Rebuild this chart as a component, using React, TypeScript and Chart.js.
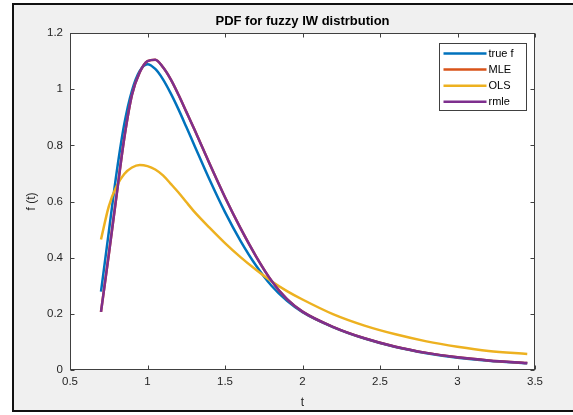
import React, { useEffect, useRef } from 'react';
import { Chart, registerables } from 'chart.js';

Chart.register(...registerables);

const titleText = 'PDF for fuzzy IW distrbution';
const xLabel = 't';
const yLabel = 'f (t)';

const tValues = [0.7, 0.75, 0.8, 0.85, 0.9, 0.95, 1.0, 1.05, 1.1, 1.15, 1.2, 1.25, 1.3, 1.4, 1.5, 1.6, 1.7, 1.8, 1.9, 2.0, 2.2, 2.4, 2.6, 2.8, 3.0, 3.2, 3.45];
const trueF = [0.279, 0.49, 0.70, 0.875, 0.995, 1.065, 1.089, 1.072, 1.035, 0.985, 0.928, 0.866, 0.803, 0.678, 0.562, 0.46, 0.372, 0.30, 0.246, 0.206, 0.152, 0.112, 0.082, 0.06, 0.044, 0.033, 0.024];
const mle = [0.207, 0.41, 0.62, 0.825, 0.98, 1.06, 1.10, 1.105, 1.078, 1.035, 0.98, 0.92, 0.86, 0.735, 0.615, 0.505, 0.405, 0.318, 0.252, 0.208, 0.153, 0.113, 0.083, 0.061, 0.045, 0.034, 0.025];
const ols = [0.465, 0.582, 0.654, 0.698, 0.721, 0.730, 0.726, 0.714, 0.693, 0.663, 0.632, 0.598, 0.565, 0.507, 0.452, 0.402, 0.357, 0.316, 0.281, 0.251, 0.198, 0.158, 0.127, 0.102, 0.083, 0.068, 0.057];
const rmle = [0.207, 0.41, 0.62, 0.825, 0.98, 1.06, 1.10, 1.105, 1.078, 1.035, 0.98, 0.92, 0.86, 0.735, 0.615, 0.505, 0.405, 0.318, 0.252, 0.208, 0.153, 0.113, 0.083, 0.061, 0.045, 0.034, 0.025];

const seriesNames = ['true f', 'MLE', 'OLS', 'rmle'];
const seriesColors = ['#0072BD', '#D95319', '#EDB120', '#7E2F8E'];

const xTicks = [0.5, 1, 1.5, 2, 2.5, 3, 3.5];
const xTickLabels = ['0.5', '1', '1.5', '2', '2.5', '3', '3.5'];
const yTicks = [0, 0.2, 0.4, 0.6, 0.8, 1, 1.2];
const yTickLabels = ['0', '0.2', '0.4', '0.6', '0.8', '1', '1.2'];

const FONT = "'Liberation Sans', Arial, Helvetica, sans-serif";

const decorPlugin = {
  id: 'decor',
  beforeDatasetsDraw(chart: any) {
    const { ctx, chartArea: a, scales } = chart;
    ctx.save();
    ctx.strokeStyle = '#404040';
    ctx.lineWidth = 1;
    const L = Math.round(a.left) + 0.5;
    const R = Math.round(a.right) - 0.5;
    const T = Math.round(a.top) + 0.5;
    const B = Math.round(a.bottom) - 0.5;
    ctx.strokeRect(L, T, R - L, B - T);
    const tl = 4;
    ctx.beginPath();
    xTicks.forEach((v) => {
      const px = Math.round(scales.x.getPixelForValue(v)) + 0.5;
      ctx.moveTo(px, B); ctx.lineTo(px, B - tl);
      ctx.moveTo(px, T); ctx.lineTo(px, T + tl);
    });
    yTicks.forEach((v) => {
      const py = Math.round(scales.y.getPixelForValue(v)) + 0.5;
      ctx.moveTo(L, py); ctx.lineTo(L + tl, py);
      ctx.moveTo(R, py); ctx.lineTo(R - tl, py);
    });
    ctx.stroke();
    ctx.restore();
  },
  afterDraw(chart: any) {
    const { ctx, chartArea: a } = chart;
    ctx.save();
    ctx.fillStyle = '#000';
    ctx.font = `bold 13px ${FONT}`;
    ctx.textAlign = 'center';
    ctx.textBaseline = 'middle';
    ctx.fillText(titleText, (a.left + a.right) / 2, 21);
    ctx.fillStyle = '#262626';
    ctx.font = `12px ${FONT}`;
    ctx.fillText(xLabel, (a.left + a.right) / 2, 403);
    ctx.save();
    ctx.translate(32, (a.top + a.bottom) / 2);
    ctx.rotate(-Math.PI / 2);
    ctx.fillText(yLabel, 0, 0);
    ctx.restore();
    const bw = 87, bh = 67;
    const bx = Math.round(a.right - 9 - bw) + 0.5;
    const by = Math.round(a.top + 10) + 0.5;
    ctx.fillStyle = '#fff';
    ctx.fillRect(bx, by, bw, bh);
    ctx.strokeStyle = '#404040';
    ctx.lineWidth = 1;
    ctx.strokeRect(bx, by, bw, bh);
    ctx.font = `11px ${FONT}`;
    ctx.textAlign = 'left';
    ctx.textBaseline = 'middle';
    seriesNames.forEach((name, i) => {
      const yy = by + 10 + i * 16.1;
      ctx.strokeStyle = seriesColors[i];
      ctx.lineWidth = 2.5;
      ctx.beginPath();
      ctx.moveTo(bx + 4, yy);
      ctx.lineTo(bx + 47, yy);
      ctx.stroke();
      ctx.fillStyle = '#000';
      ctx.fillText(name, bx + 49, yy + 0.5);
    });
    ctx.restore();
  },
};

export default function App() {
  const canvasRef = useRef<HTMLCanvasElement | null>(null);

  useEffect(() => {
    const canvas = canvasRef.current;
    if (!canvas) return;
    const seriesData = [trueF, mle, ols, rmle];
    const orders = [3, 2, 1, 0];
    const chart = new Chart(canvas, {
      type: 'line',
      data: {
        datasets: seriesData.map((arr, i) => ({
          label: seriesNames[i],
          data: tValues.map((t, j) => ({ x: t, y: arr[j] })),
          borderColor: seriesColors[i],
          backgroundColor: seriesColors[i],
          borderWidth: 2.5,
          pointRadius: 0,
          fill: false,
          cubicInterpolationMode: 'monotone',
          order: orders[i],
        })),
      },
      options: {
        responsive: false,
        animation: false,
        maintainAspectRatio: false,
        layout: { padding: { left: 0, top: 33, right: 38, bottom: 0 } },
        plugins: {
          legend: { display: false },
          title: { display: false },
          tooltip: { enabled: false },
        },
        scales: {
          x: {
            type: 'linear',
            min: 0.5,
            max: 3.5,
            grid: { display: false, drawTicks: false },
            border: { display: false },
            afterFit: (s: any) => { s.height = 45; },
            afterBuildTicks: (s: any) => { s.ticks = xTicks.map((v) => ({ value: v })); },
            ticks: {
              padding: 5,
              color: '#262626',
              font: { family: FONT, size: 11.5 },
              maxRotation: 0,
              autoSkip: false,
              callback: (v: any) => {
                const i = xTicks.findIndex((t) => Math.abs(t - v) < 1e-9);
                return i >= 0 ? xTickLabels[i] : '';
              },
            },
          },
          y: {
            type: 'linear',
            min: 0,
            max: 1.2,
            grid: { display: false, drawTicks: false },
            border: { display: false },
            afterFit: (s: any) => { s.width = 70; },
            afterBuildTicks: (s: any) => { s.ticks = yTicks.map((v) => ({ value: v })); },
            ticks: {
              padding: 7,
              color: '#262626',
              font: { family: FONT, size: 11.5 },
              autoSkip: false,
              callback: (v: any) => {
                const i = yTicks.findIndex((t) => Math.abs(t - v) < 1e-9);
                return i >= 0 ? yTickLabels[i] : '';
              },
            },
          },
        },
      },
      plugins: [decorPlugin],
    } as any);
    return () => chart.destroy();
  }, []);

  return (
    <div style={{ position: 'fixed', left: 0, top: 0, width: 573, height: 415, background: '#fff', overflow: 'hidden' }}>
      <div
        style={{
          position: 'absolute',
          left: 12,
          top: 3,
          width: 620,
          height: 405,
          border: '2px solid #111',
          background: '#f0f0f0',
        }}
      />
      <div style={{ position: 'absolute', left: 70, top: 33, width: 465, height: 337, background: '#fff' }} />
      <canvas
        ref={canvasRef}
        width={573}
        height={415}
        style={{ position: 'absolute', left: 0, top: 0, width: 573, height: 415 }}
      />
    </div>
  );
}
